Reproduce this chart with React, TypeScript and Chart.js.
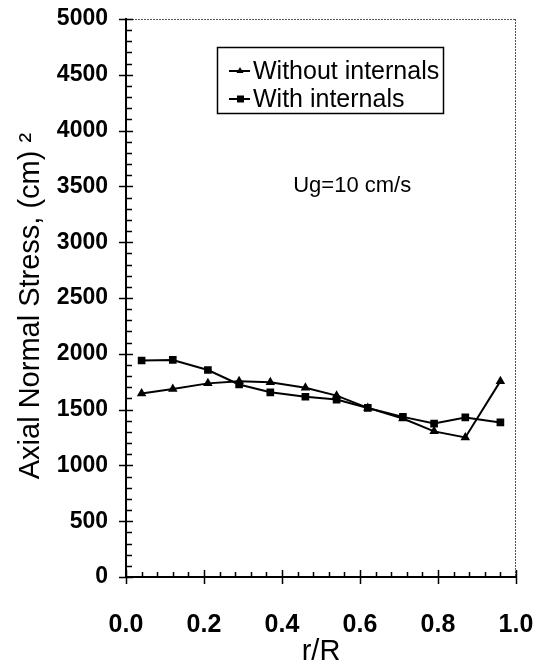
import React, { useEffect, useRef } from "react";
import { Chart, registerables } from "chart.js";

Chart.register(...registerables);

const rR = [0.04, 0.12, 0.21, 0.29, 0.37, 0.46, 0.54, 0.62, 0.71, 0.79, 0.87, 0.96];
const withoutInternals = [1645, 1685, 1735, 1755, 1745, 1695, 1625, 1515, 1420, 1305, 1250, 1755];
const withInternals = [1940, 1945, 1855, 1725, 1655, 1615, 1590, 1515, 1435, 1375, 1430, 1385];
const seriesNames = ["Without internals", "With internals"];
const annotationText = "Ug=10 cm/s";
const xTitle = "r/R";
const yTitle = "Axial Normal Stress, (cm) \u00B2  ";

const FONT = "'Liberation Sans', Arial, sans-serif";

const framePlugin = {
  id: "frame",
  afterDraw(chart: any) {
    const ctx = chart.ctx;
    const { left, right, top, bottom } = chart.chartArea;
    const xs = chart.scales.x;
    const ys = chart.scales.y;
    ctx.save();
    // top & right thin border
    ctx.strokeStyle = "#555";
    ctx.lineWidth = 1;
    ctx.setLineDash([2, 1]);
    ctx.beginPath();
    ctx.moveTo(left, top + 0.5);
    ctx.lineTo(right, top + 0.5);
    ctx.moveTo(right - 0.5, top);
    ctx.lineTo(right - 0.5, bottom);
    ctx.stroke();
    ctx.setLineDash([]);
    // ticks
    ctx.strokeStyle = "#000";
    ctx.lineWidth = 1.5;
    ctx.beginPath();
    for (let v = 0; v <= 5000; v += 100) {
      const y = Math.round(ys.getPixelForValue(v)) + 0.5;
      if (v % 500 === 0) {
        ctx.moveTo(left - 7, y);
        ctx.lineTo(left + 7, y);
      } else {
        ctx.moveTo(left, y);
        ctx.lineTo(left + 6, y);
      }
    }
    for (let i = 0; i <= 25; i++) {
      const v = i * 0.04;
      const x = Math.round(xs.getPixelForValue(v)) + 0.5;
      if (i % 5 === 0) {
        ctx.moveTo(x, bottom - 7);
        ctx.lineTo(x, bottom + 7);
      } else {
        ctx.moveTo(x, bottom);
        ctx.lineTo(x, bottom - 5);
      }
    }
    ctx.stroke();
    // annotation
    ctx.fillStyle = "#000";
    ctx.font = `22px ${FONT}`;
    ctx.textAlign = "center";
    ctx.textBaseline = "middle";
    ctx.fillText(annotationText, xs.getPixelForValue(0.58), ys.getPixelForValue(3500));
    // legend box
    const bx = 217, by = 47, bw = 226, bh = 66;
    ctx.lineWidth = 1.5;
    ctx.strokeRect(bx + 0.5, by + 0.5, bw, bh);
    ctx.font = `25px ${FONT}`;
    ctx.textAlign = "left";
    const rows = [by + 24, by + 52];
    const styles = ["triangle", "rect"];
    rows.forEach((ry, i) => {
      ctx.lineWidth = 2;
      ctx.beginPath();
      ctx.moveTo(bx + 12, ry);
      ctx.lineTo(bx + 33, ry);
      ctx.stroke();
      if (styles[i] === "rect") {
        ctx.fillRect(bx + 20, ry - 3.5, 7, 7);
      } else {
        ctx.beginPath();
        ctx.moveTo(bx + 23, ry - 4);
        ctx.lineTo(bx + 26.5, ry + 2);
        ctx.lineTo(bx + 19.5, ry + 2);
        ctx.closePath();
        ctx.fill();
      }
      ctx.fillText(seriesNames[i], bx + 36, ry + 1);
    });
    ctx.restore();
  },
};

export default function App() {
  const ref = useRef<HTMLCanvasElement | null>(null);
  useEffect(() => {
    if (!ref.current) return;
    const chart = new Chart(ref.current, {
      type: "line",
      data: {
        datasets: [
          {
            label: seriesNames[0],
            data: rR.map((x, i) => ({ x, y: withoutInternals[i] })),
            borderColor: "#000",
            backgroundColor: "#000",
            borderWidth: 2,
            pointStyle: "triangle",
            pointRadius: 3.5,
            tension: 0,
          },
          {
            label: seriesNames[1],
            data: rR.map((x, i) => ({ x, y: withInternals[i] })),
            borderColor: "#000",
            backgroundColor: "#000",
            borderWidth: 2,
            pointStyle: "rect",
            pointRadius: 4,
            tension: 0,
          },
        ],
      },
      plugins: [framePlugin],
      options: {
        animation: false,
        responsive: false,
        maintainAspectRatio: false,
        layout: { padding: { left: 0, right: 24, top: 19, bottom: 0 } },
        plugins: { legend: { display: false }, tooltip: { enabled: false } },
        scales: {
          x: {
            type: "linear",
            min: 0,
            max: 1,
            grid: { display: false },
            border: { display: true, color: "#000", width: 2 },
            ticks: {
              stepSize: 0.2,
              color: "#000",
              padding: 25,
              font: { family: FONT, size: 25, weight: "bold" },
              callback: (v: any) => Number(v).toFixed(1),
              maxRotation: 0,
            },
            title: {
              display: true,
              text: xTitle,
              color: "#000",
              font: { family: FONT, size: 29, lineHeight: 1 },
              padding: { top: 0, bottom: 0 },
            },
            afterFit: (s: any) => {
              s.height = 89;
              s.paddingLeft = 0;
              s.paddingRight = 0;
            },
          },
          y: {
            min: 0,
            max: 5000,
            grid: { display: false },
            border: { display: true, color: "#000", width: 2 },
            ticks: {
              stepSize: 500,
              color: "#000",
              padding: 10,
              font: { family: FONT, size: 23, weight: "bold" },
              callback: (v: any) => String(v),
            },
            title: {
              display: true,
              text: yTitle,
              color: "#000",
              font: { family: FONT, size: 29 },
              padding: { top: 14, bottom: 0 },
            },
            afterFit: (s: any) => {
              s.width = 126;
              s.paddingTop = 0;
              s.paddingBottom = 0;
            },
          },
        },
      },
    });
    return () => chart.destroy();
  }, []);
  return (
    <div style={{ position: "absolute", left: 0, top: 0, width: 540, height: 666, background: "#fff" }}>
      <canvas ref={ref} width={540} height={666} style={{ display: "block" }} />
    </div>
  );
}
